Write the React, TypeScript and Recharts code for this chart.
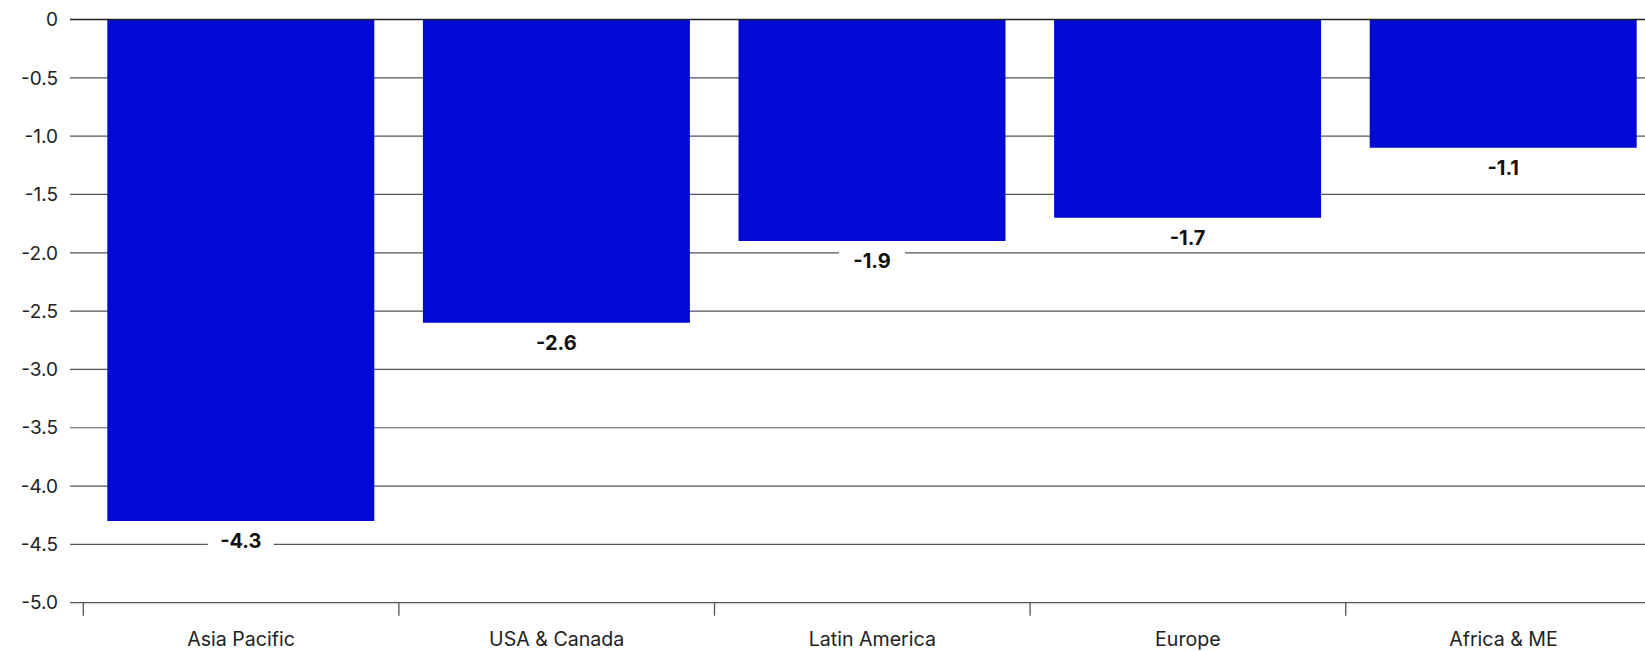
import { BarChart, Bar, XAxis, YAxis, CartesianGrid, ReferenceLine, LabelList } from 'recharts';

const regions = ['Asia Pacific', 'USA & Canada', 'Latin America', 'Europe', 'Africa & ME'];
const changes = [-4.3, -2.6, -1.9, -1.7, -1.1];
const yTicks = [0, -0.5, -1.0, -1.5, -2.0, -2.5, -3.0, -3.5, -4.0, -4.5, -5.0];

const data = regions.map((region, i) => ({ region, value: changes[i] }));

const FONT = 'Inter, "Noto Sans", sans-serif';
const BLUE = '#000AD2';

// category label centred in the band, tick mark on the band's left edge
const RegionTick = (props: any) => {
  const { x, y, payload } = props;
  const half = payload?.offset ?? 157.8;
  return (
    <g>
      <line x1={x - half} x2={x - half} y1={y} y2={y + 13} stroke="#555" strokeWidth={1.3} />
      <text
        x={x}
        y={y + 36}
        textAnchor="middle"
        dominantBaseline="central"
        fontFamily={FONT}
        fontSize={19.6}
        fill="#222"
      >
        {payload.value}
      </text>
    </g>
  );
};

// bold value under the bar end, on a white box so gridlines break around it
const ValueLabel = (props: any) => {
  const { x, y, width, height, value } = props;
  const cx = x + width / 2;
  const bottom = Math.max(y, y + height);
  const cy = bottom + 20;
  return (
    <g>
      <rect x={cx - 33} y={cy - 11} width={66} height={22} fill="#fff" />
      <text
        x={cx}
        y={cy}
        textAnchor="middle"
        dominantBaseline="central"
        fontFamily={FONT}
        fontSize={20}
        fontWeight={700}
        fill="#111"
      >
        {value.toFixed(1)}
      </text>
    </g>
  );
};

export default function App() {
  return (
    <div style={{ position: 'absolute', left: 0, top: 0, width: 1645, height: 651, overflow: 'hidden', background: '#fff' }}>
      <BarChart
        width={1680}
        height={651}
        data={data}
        margin={{ top: 19.5, right: 18.7, bottom: 0, left: 0 }}
      >
        <CartesianGrid vertical={false} stroke="#555" strokeWidth={1.2} />
        <XAxis
          dataKey="region"
          axisLine={false}
          tickLine={false}
          tickSize={0}
          tickMargin={0}
          height={48.3}
          padding={{ left: 13.3, right: 0 }}
          interval={0}
          tick={<RegionTick />}
        />
        <YAxis
          domain={[-5, 0]}
          ticks={yTicks}
          width={70}
          axisLine={false}
          tickLine={false}
          tickSize={6}
          tickMargin={6}
          tickFormatter={(v: number) => (v === 0 ? '0' : v.toFixed(1))}
          tick={{ fontFamily: FONT, fontSize: 19, fill: '#222' }}
        />
        <ReferenceLine y={0} stroke="#222" strokeWidth={1.5} />
        <Bar dataKey="value" fill={BLUE} barSize={267} isAnimationActive={false}>
          <LabelList dataKey="value" content={<ValueLabel />} />
        </Bar>
      </BarChart>
    </div>
  );
}
